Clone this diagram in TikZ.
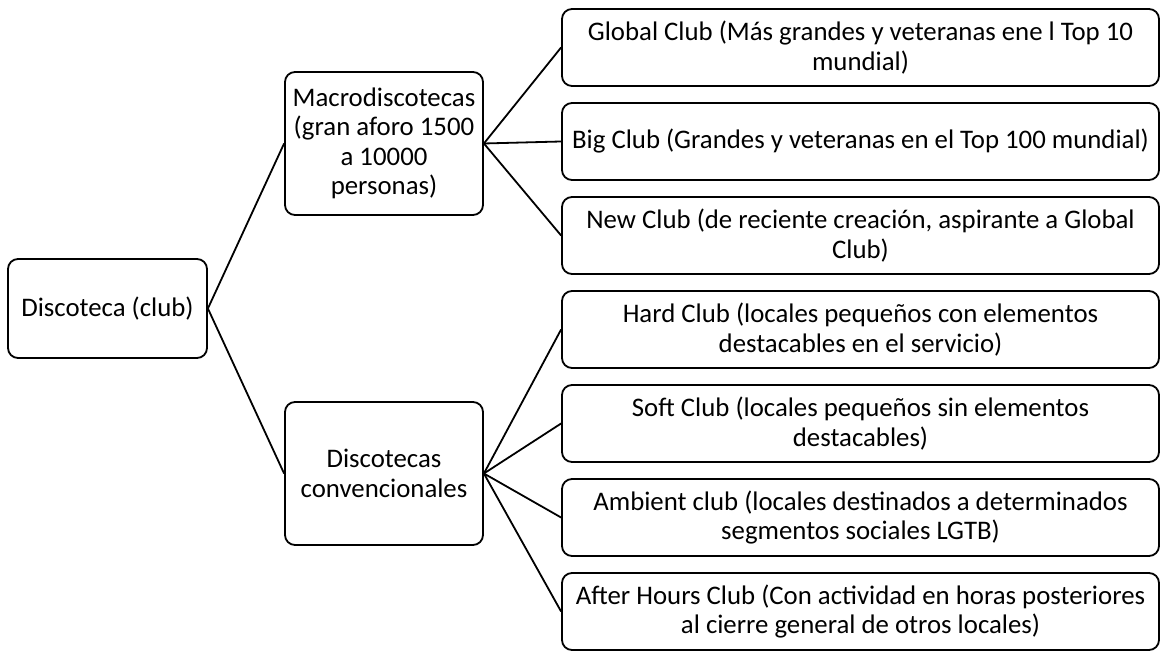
\documentclass[tikz,border=0pt]{standalone}
\usepackage{fontspec}
\setmainfont{Carlito}
\begin{document}
\begin{tikzpicture}[x=1pt,y=1pt,
  box/.style={draw=black, line width=1.8pt, rounded corners=10pt,
    inner sep=0pt, align=center, font=\fontsize{26.8}{29.5}\selectfont},
  rootbox/.style={box, minimum width=199pt, minimum height=99pt},
  midbox/.style={box, minimum width=198pt, minimum height=143pt},
  leafbox/.style={box, minimum width=597pt, minimum height=77pt},
  link/.style={draw=black, line width=1.8pt}]
\useasboundingbox (0,0) rectangle (1164,652);

% root
\node[rootbox] (root) at (107.5,343.5) {Discoteca (club)};

% second level
\node[midbox] (macro) at (384,508.5) {Macrodiscotecas\\(gran aforo 1500\\a 10000\\personas)};
\node[midbox] (conv) at (384,178.5) {Discotecas\\convencionales};

% leaves
\node[leafbox] (global) at (860.5,604.5) {Global Club (Más grandes y veteranas ene l Top 10\\mundial)};
\node[leafbox] (big) at (860.5,510.5) {Big Club (Grandes y veteranas en el Top 100 mundial)};
\node[leafbox] (new) at (860.5,416.5) {New Club (de reciente creación, aspirante a Global\\Club)};
\node[leafbox] (hard) at (860.5,322.5) {Hard Club (locales pequeños con elementos\\destacables en el servicio)};
\node[leafbox] (soft) at (860.5,228.5) {Soft Club (locales pequeños sin elementos\\destacables)};
\node[leafbox] (ambient) at (860.5,134.5) {Ambient club (locales destinados a determinados\\segmentos sociales LGTB)};
\node[leafbox] (after) at (860.5,40.5) {After Hours Club (Con actividad en horas posteriores\\al cierre general de otros locales)};

% connectors
\draw[link] (root.east) -- (macro.west);
\draw[link] (root.east) -- (conv.west);
\foreach \n in {global,big,new}
  \draw[link] (macro.east) -- (\n.west);
\foreach \n in {hard,soft,ambient,after}
  \draw[link] (conv.east) -- (\n.west);
\end{tikzpicture}
\end{document}
